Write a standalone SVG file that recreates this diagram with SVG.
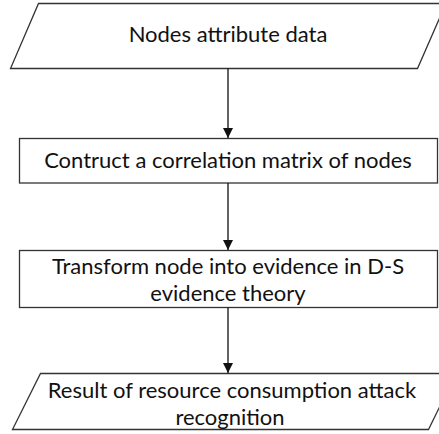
<svg xmlns="http://www.w3.org/2000/svg" width="439" height="434" viewBox="0 0 439 434">
<style>
.s{fill:#fff;stroke:#333;stroke-width:1.3}
.t{font-family:Lato,"Liberation Sans",sans-serif;font-size:22px;fill:#111;text-anchor:middle}
.c{stroke:#111;stroke-width:1.3;fill:none}
</style>
<defs>
<marker id="ah" viewBox="0 0 10 12" refX="10" refY="6" markerWidth="10" markerHeight="12" markerUnits="userSpaceOnUse" orient="auto">
<path d="M0,1 L10,6 L0,11 Z" fill="#111"/>
</marker>
</defs>
<rect width="439" height="434" fill="#fff"/>
<g id="n1">
<polygon class="s" points="38.5,3.5 446,3.5 417.5,68.5 10.5,68.5"/>
<text class="t" x="228" y="42">Nodes attribute data</text>
</g>
<g id="n2">
<rect class="s" x="19.5" y="138.5" width="418" height="44.5"/>
<text class="t" x="228" y="168">Contruct a correlation matrix of nodes</text>
</g>
<g id="n3">
<rect class="s" x="19.5" y="250.5" width="418" height="57"/>
<text class="t" x="228" y="274">Transform node into evidence in D-S</text>
<text class="t" x="228" y="301">evidence theory</text>
</g>
<g id="n4">
<polygon class="s" points="40.5,373.5 456,373.5 428.5,429.5 12.5,429.5"/>
<text class="t" x="232" y="398">Result of resource consumption attack</text>
<text class="t" x="230" y="425">recognition</text>
</g>
<g id="connectors">
<line class="c" x1="228" y1="68.5" x2="228" y2="138" marker-end="url(#ah)"/>
<line class="c" x1="228" y1="183" x2="228" y2="250" marker-end="url(#ah)"/>
<line class="c" x1="228" y1="307.5" x2="228" y2="373" marker-end="url(#ah)"/>
</g>
</svg>
